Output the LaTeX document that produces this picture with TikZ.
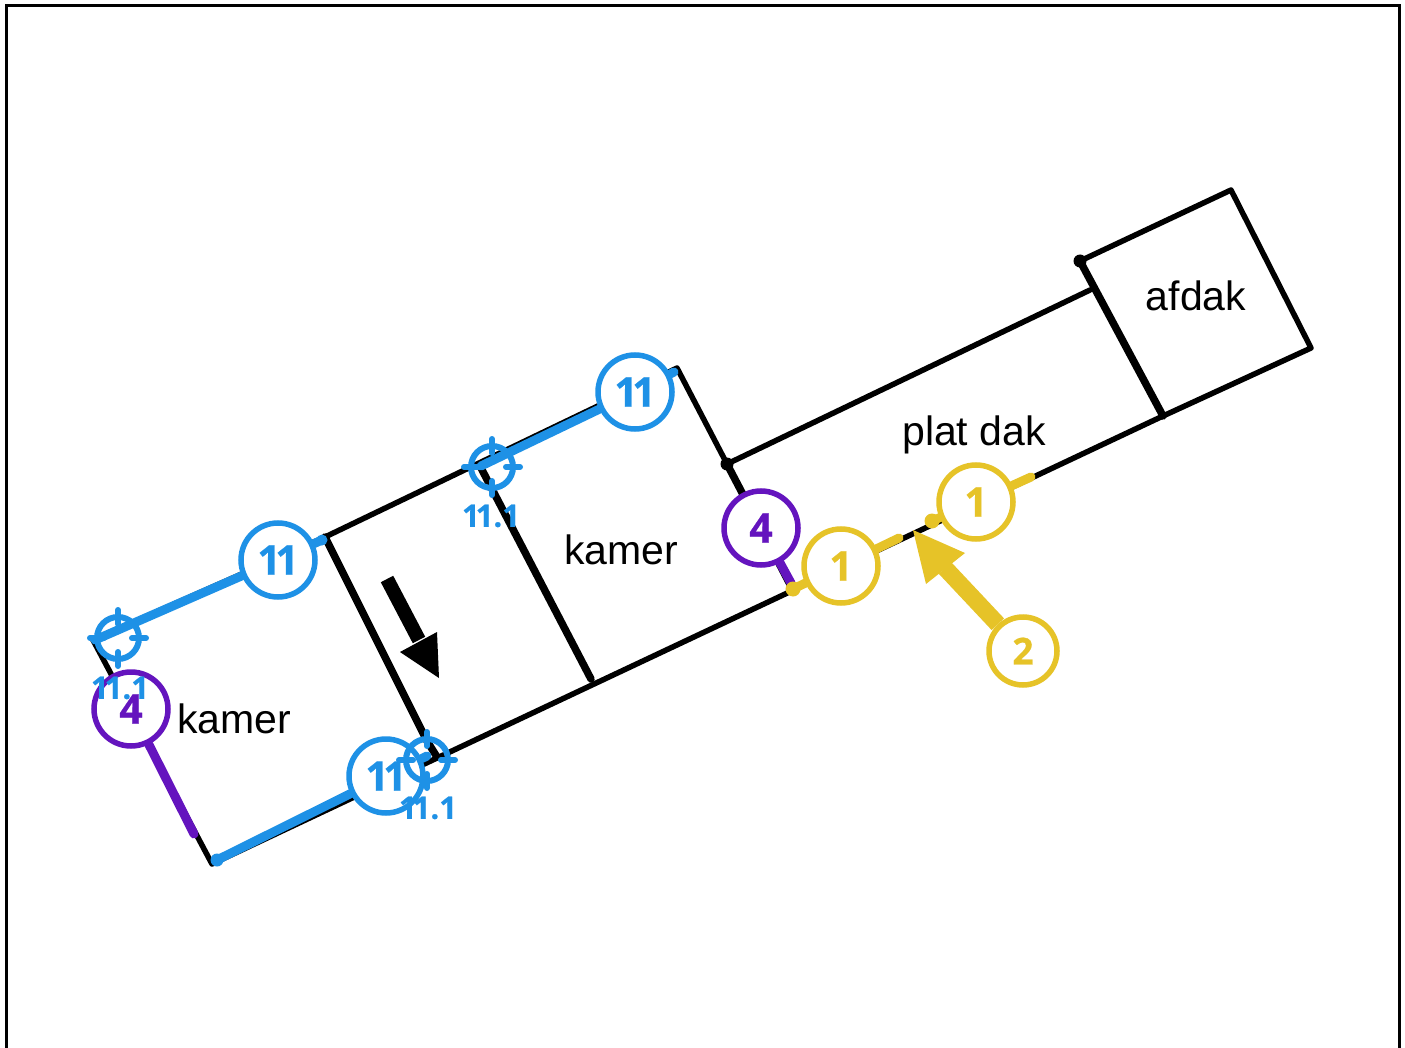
\documentclass[tikz,border=0pt]{standalone}
\usepackage{fontspec}
\setmainfont{Liberation Sans}
\newfontfamily\numfont{Open Sans}[BoldFeatures={FakeBold=0.6}]
\usetikzlibrary{calc,backgrounds}
\definecolor{cblue}{HTML}{1E91E6}
\definecolor{cpurple}{HTML}{6414BE}
\definecolor{cyellow}{HTML}{E6C328}
\tikzset{
  x=1pt,y=-1pt,
  thinwall/.style={draw=black,line width=5.5pt,line cap=round,line join=round},
  thickwall/.style={draw=black,line width=7.5pt,line cap=round},
  room/.style={inner sep=0pt,font=\fontsize{41}{41}\selectfont,text=black},
  tagc/.style={circle,draw=#1,fill=white,line width=5.5pt,text=#1,minimum size=74pt,inner sep=0pt,
     font=\numfont\bfseries\fontsize{41}{41}\selectfont},
  tagd/.style={tagc=cyellow,minimum size=68pt,font=\numfont\bfseries\fontsize{37}{37}\selectfont},
  stub/.style={draw=#1,line width=9pt,line cap=round},
  smalllabel/.style={inner sep=0pt,text=cblue,font=\numfont\bfseries\fontsize{31}{31}\selectfont},
  xring/.style={circle,draw=cblue,line width=6pt,minimum size=42pt,inner sep=0pt},
  xtick/.style={draw=cblue,line width=6pt,line cap=round},
}
\newcommand{\xhair}[2]{%
  \node[xring] (#1) at (#2) {};
  \draw[xtick] ($(#1)+(0,-28)$) -- ($(#1)+(0,-14)$);
  \draw[xtick] ($(#1)+(0,28)$) -- ($(#1)+(0,14)$);
  \draw[xtick] ($(#1)+(-28,0)$) -- ($(#1)+(-14,0)$);
  \draw[xtick] ($(#1)+(28,0)$) -- ($(#1)+(14,0)$);
}
\begin{document}
\begin{tikzpicture}
\useasboundingbox (0,0) rectangle (1405,1048);
% tag circles (their connectors lie behind them)
\node[tagc=cblue] (t1) at (278,560) {1\kern-5.5pt 1};
\node[tagc=cblue] (t2) at (635,392) {1\kern-5.5pt 1};
\node[tagc=cblue] (t3) at (386,776) {1\kern-5.5pt 1};
\node[tagc=cpurple] (t4) at (131,709) {4};
\node[tagc=cpurple] (t5) at (761,528) {4};
\node[tagc=cyellow] (t6) at (841,566) {1};
\node[tagc=cyellow] (t7) at (976,502) {1};
\node[tagd] (t8) at (1023,651) {2};
% room labels
\node[room] (r1) at (234,719) {kamer};
\node[room] (r2) at (621,550) {kamer};
\node[room] (r3) at (974,435) {plat dak};
\node[room] (r4) at (1196,296) {afdak};
\begin{pgfonlayer}{background}
\fill[white] (0,0) rectangle (1405,1048);
% frame
\coordinate (fa) at (6.5,1048); \coordinate (fb) at (6.5,6);
\coordinate (fc) at (1399,6); \coordinate (fd) at (1399,1048);
\draw[line width=3pt] (fa) -- (fb) -- (fc) -- (fd);
% corners
\coordinate (a) at (93,640); \coordinate (b) at (212,864);
\coordinate (c) at (437,757); \coordinate (d) at (427,741);
\coordinate (e) at (325,537); \coordinate (f) at (677,368);
\coordinate (g) at (727,464); \coordinate (h) at (793,590);
\coordinate (i) at (1163,416); \coordinate (j) at (1311,348);
\coordinate (k) at (1231,190); \coordinate (l) at (1080,261);
\coordinate (m) at (1090,290); \coordinate (n) at (480,466);
\coordinate (o) at (591,679);
% walls
\draw[thinwall] (a) -- (b) -- (i);
\draw[thinwall] (a) -- (e) -- (f) -- (g) -- (m);
\draw[thinwall] (i) -- (j) -- (k) -- (l);
\draw[thickwall] (e) -- (d) -- (c);
\draw[thickwall] (n) -- (o);
\draw[thickwall] (g) -- (h);
\draw[thickwall] (l) -- (i);
\fill (g) circle (6.5pt);
\fill (l) circle (6.5pt);
% black arrow
\coordinate (ba) at (387,579); \coordinate (bb) at (419,640);
\coordinate (bt) at (439,678); \coordinate (bl) at (400,652); \coordinate (br) at (437,632);
\draw[line width=14pt] (ba) -- (bb);
\fill (bt) -- (bl) -- (br) -- cycle;
% coloured connectors
\coordinate (s1a) at (95,640); \coordinate (s1b) at (322,540);
\coordinate (s2a) at (481,466); \coordinate (s2b) at (674,372);
\coordinate (s3a) at (217,860); \coordinate (s3b) at (427,756);
\coordinate (p1a) at (194,834); \coordinate (p2a) at (791,583);
\coordinate (y1a) at (793,589); \coordinate (y1b) at (899,538);
\coordinate (y2a) at (932,521); \coordinate (y2b) at (1031,477);
\draw[stub=cblue] (s1a) -- (t1);
\draw[stub=cblue] (t1) -- (s1b);
\draw[stub=cblue] (s2a) -- (t2);
\draw[stub=cblue] (t2) -- (s2b);
\draw[stub=cblue] (s3a) -- (t3);
\draw[stub=cblue] (t3) -- (s3b);
\draw[stub=cpurple] (t4) -- (p1a);
\draw[stub=cpurple] (t5) -- (p2a);
\draw[stub=cyellow] (y1a) -- (t6);
\draw[stub=cyellow] (t6) -- (y1b);
\draw[stub=cyellow] (y2a) -- (t7);
\draw[stub=cyellow] (t7) -- (y2b);
\fill[cblue] (s3a) circle (6.5pt);
\fill[cblue] (s1b) circle (5.5pt);
\fill[cyellow] (y1a) circle (7.5pt);
\fill[cyellow] (y2a) circle (7.5pt);
% yellow arrow
\coordinate (yt) at (913,530); \coordinate (yl) at (926,584);
\coordinate (yr) at (965,553); \coordinate (yb) at (945,568);
\draw[cyellow,line width=17pt] (t8) -- (yb);
\fill[cyellow] (yt) -- (yl) -- (yr) -- cycle;
\end{pgfonlayer}
% crosshairs
\xhair{x1}{118,638}
\xhair{x2}{492,467}
\xhair{x3}{427,760}
\node[smalllabel] (l1) at (120,688) {1\kern-4pt 1.1};
\node[smalllabel] (l2) at (491,516) {1\kern-4pt 1.1};
\node[smalllabel] (l3) at (428,808) {1\kern-4pt 1.1};
\end{tikzpicture}
\end{document}
